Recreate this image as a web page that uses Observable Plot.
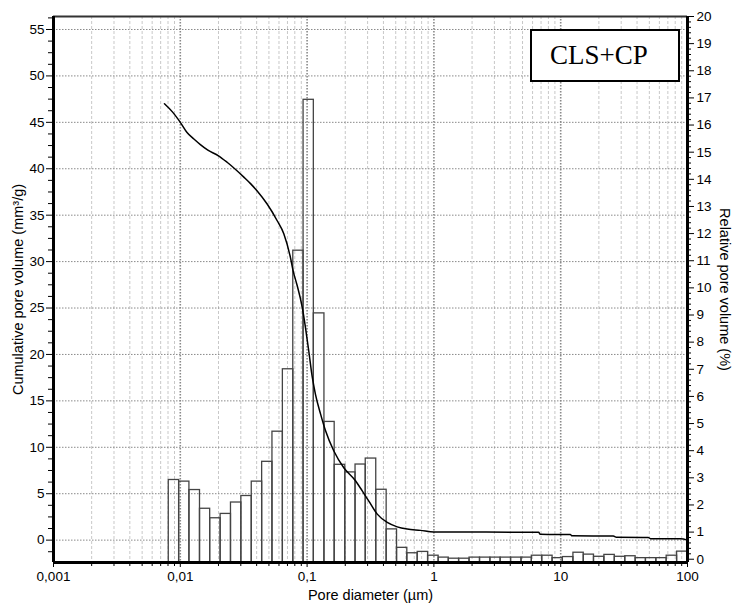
<!DOCTYPE html>
<html>
<head>
<meta charset="utf-8">
<script src="https://cdn.jsdelivr.net/npm/d3@7"></script>
<script src="https://cdn.jsdelivr.net/npm/@observablehq/plot@0.6"></script>
<style>
  html, body { margin: 0; padding: 0; background: #fff; }
  #wrap { position: relative; width: 738px; height: 611px; font-family: "Liberation Sans", Arial, sans-serif; }
  #tag {
    position: absolute; left: 530px; top: 29px; width: 150px; height: 53px;
    box-sizing: border-box; border: 2px solid #000; background: #fff;
    font-family: "Liberation Serif", "Times New Roman", serif; font-size: 27px;
    display: flex; align-items: center; padding-left: 18px; color: #000;
  }
</style>
</head>
<body>
<div id="wrap"><div id="tag">CLS+CP</div></div>
<script>
// ---- Data ----
// Histogram bin edges (pore diameter, µm)
const binEdges = [0.00811, 0.00979, 0.0118, 0.0143, 0.0172, 0.0208, 0.0251, 0.0303, 0.0366, 0.0442,
  0.0533, 0.0644, 0.0778, 0.0938, 0.113, 0.137, 0.165, 0.200, 0.241, 0.290,
  0.351, 0.424, 0.512, 0.617, 0.745, 0.900, 1.09, 1.31, 1.58, 1.91,
  2.31, 2.79, 3.36, 4.06, 4.91, 5.92, 7.15, 8.63, 10.4, 12.6,
  15.2, 18.3, 22.1, 26.7, 32.3, 39.0, 47.0, 56.8, 68.5, 82.8, 100];
// Relative pore volume (%) per bin
const relVolume = [2.92, 2.86, 2.55, 1.86, 1.51, 1.67, 2.09, 2.33, 2.86, 3.59,
  4.70, 7.0, 11.37, 16.93, 9.06, 5.06, 3.48, 3.20, 3.49, 3.71,
  2.56, 1.10, 0.42, 0.22, 0.27, 0.13, 0.06, 0.02, 0.02, 0.06,
  0.06, 0.06, 0.06, 0.06, 0.06, 0.13, 0.13, 0.04, 0.08, 0.24,
  0.17, 0.09, 0.16, 0.09, 0.11, 0.04, 0.04, 0.04, 0.13, 0.28];
// Cumulative pore volume curve (diameter µm, mm³/g)
const cumDiameter = [0.0075, 0.0087, 0.0100, 0.0113, 0.0128, 0.0144, 0.0165, 0.0200, 0.0234, 0.0317, 0.0358, 0.0404,
  0.0484, 0.0581, 0.0655, 0.0740, 0.0776, 0.0836, 0.0915, 0.0971, 0.103, 0.1097,
  0.1164, 0.1276, 0.1396, 0.1625, 0.1947, 0.2408, 0.2721, 0.3068, 0.3574, 0.4285,
  0.5137, 0.6155, 0.784, 1.0, 6.7, 6.9, 11.9, 12.3, 26, 27.5, 49, 51, 88, 100];
const cumVolume = [47.0, 46.1, 45.0, 43.9, 43.2, 42.6, 42.0, 41.4, 40.7, 39.1, 38.4, 37.6,
  36.2, 34.4, 33.0, 30.4, 29.0, 27.4, 25.1, 22.9, 20.4, 17.6,
  15.7, 13.6, 11.8, 9.6, 7.8, 6.4, 5.3, 4.2, 2.8, 1.9,
  1.43, 1.19, 1.05, 0.88, 0.85, 0.62, 0.60, 0.46, 0.44, 0.30, 0.29, 0.16, 0.14, 0.0];

// Tick values and labels
const xTickValues = [0.001, 0.01, 0.1, 1, 10, 100];
const xTickLabels = ["0,001", "0,01", "0,1", "1", "10", "100"];
const leftTickValues = [0, 5, 10, 15, 20, 25, 30, 35, 40, 45, 50, 55];
const rightTickValues = [0, 1, 2, 3, 4, 5, 6, 7, 8, 9, 10, 11, 12, 13, 14, 15, 16, 17, 18, 19, 20];

// Axis texts
const xTitle = "Pore diameter (µm)";
const yLeftTitle = "Cumulative pore volume (mm³/g)";
const yRightTitle = "Relative pore volume (%)";

// ---- Scale setup ----
const yDomain = [-2.41, 56.4];           // left axis (mm³/g)
const pctZero = -2.058;                 // where 0 % sits on the left axis
const pctUnit = (yDomain[1] - pctZero) / 20; // left units per 1 %
const pctToLeft = p => pctZero + p * pctUnit;
const leftToPct = v => (v - pctZero) / pctUnit;

const minorX = [];
for (const d of [0.001, 0.01, 0.1, 1, 10]) for (let k = 2; k <= 9; k++) minorX.push(+(d * k).toPrecision(3));
const leftMinor = d3.range(-1.25, 56.3, 1.25).filter(v => Math.abs(v % 5) > 1e-6);
const rightMinor = d3.range(0, 20.01, 0.2).map(v => +v.toFixed(2)).filter(v => Math.abs(v - Math.round(v)) > 1e-6).map(pctToLeft);

const bars = relVolume.map((v, i) => ({x1: binEdges[i], x2: binEdges[i + 1], v}));
const curve = cumDiameter.map((d, i) => ({d, v: cumVolume[i]}));
const xLabel = d => {
  const i = xTickValues.findIndex(t => Math.abs(Math.log10(t) - Math.log10(d)) < 1e-6);
  return i >= 0 ? xTickLabels[i] : "";
};

const chart = Plot.plot({
  width: 738, height: 611,
  marginLeft: 53, marginRight: 51, marginTop: 16, marginBottom: 49,
  style: {fontFamily: '"Liberation Sans", Arial, sans-serif', fontSize: "13px", background: "#fff", color: "#000"},
  x: {type: "log", domain: [0.001, 100], label: null},
  y: {domain: yDomain, label: null},
  marks: [
    Plot.ruleX(minorX, {stroke: "#c8c8c8", strokeDasharray: "3,2", strokeWidth: 1}),
    Plot.ruleX(xTickValues.slice(1, -1), {stroke: "#8a8a8a", strokeDasharray: "1.5,1.5", strokeWidth: 1.6}),
    Plot.ruleY(leftTickValues, {stroke: "#8a8a8a", strokeDasharray: "1.5,1.5", strokeWidth: 1}),
    Plot.rect(bars, {x1: "x1", x2: "x2", y1: yDomain[0], y2: d => pctToLeft(d.v), fill: "none", stroke: "#444", strokeWidth: 1.3}),
    Plot.line(curve, {x: "d", y: "v", stroke: "#000", strokeWidth: 1.5, curve: "monotone-x"}),
    // frame
    Plot.ruleY([yDomain[1]], {stroke: "#333", strokeWidth: 2}),
    Plot.ruleY([yDomain[0]], {stroke: "#000", strokeWidth: 3}),
    Plot.ruleX([0.001], {stroke: "#000", strokeWidth: 3}),
    Plot.ruleX([100], {stroke: "#000", strokeWidth: 3}),
    // x axis
    Plot.axisX(minorX, {tickSize: 4, tickFormat: () => "", label: null}),
    Plot.axisX(xTickValues, {tickSize: 5, tickPadding: 4, tickFormat: xLabel, label: null, fontSize: 13.5}),
    // left axis
    Plot.axisY(leftTickValues, {anchor: "left", tickSize: 7, tickPadding: 2, label: null, fontSize: 13.5}),
    Plot.axisY(leftMinor, {anchor: "left", tickSize: 5, tickFormat: () => "", label: null}),
    // right axis
    Plot.axisY(rightTickValues.map(pctToLeft), {anchor: "right", tickSize: 6, tickPadding: 3, tickFormat: v => String(Math.round(leftToPct(v))), label: null, fontSize: 13.5}),
    Plot.axisY(rightMinor, {anchor: "right", tickSize: 3, tickFormat: () => "", label: null}),
    // titles
    Plot.text([yLeftTitle], {frameAnchor: "left", textAnchor: "middle", dx: -35, rotate: -90, fontSize: 14.5}),
    Plot.text([yRightTitle], {frameAnchor: "right", textAnchor: "middle", dx: 37, rotate: 90, fontSize: 14.5}),
    Plot.text([xTitle], {frameAnchor: "bottom", dy: 37, fontSize: 14.5})
  ]
});
document.getElementById("wrap").prepend(chart);
chart.style.position = "absolute";
chart.style.left = "0";
chart.style.top = "0";
</script>
</body>
</html>
